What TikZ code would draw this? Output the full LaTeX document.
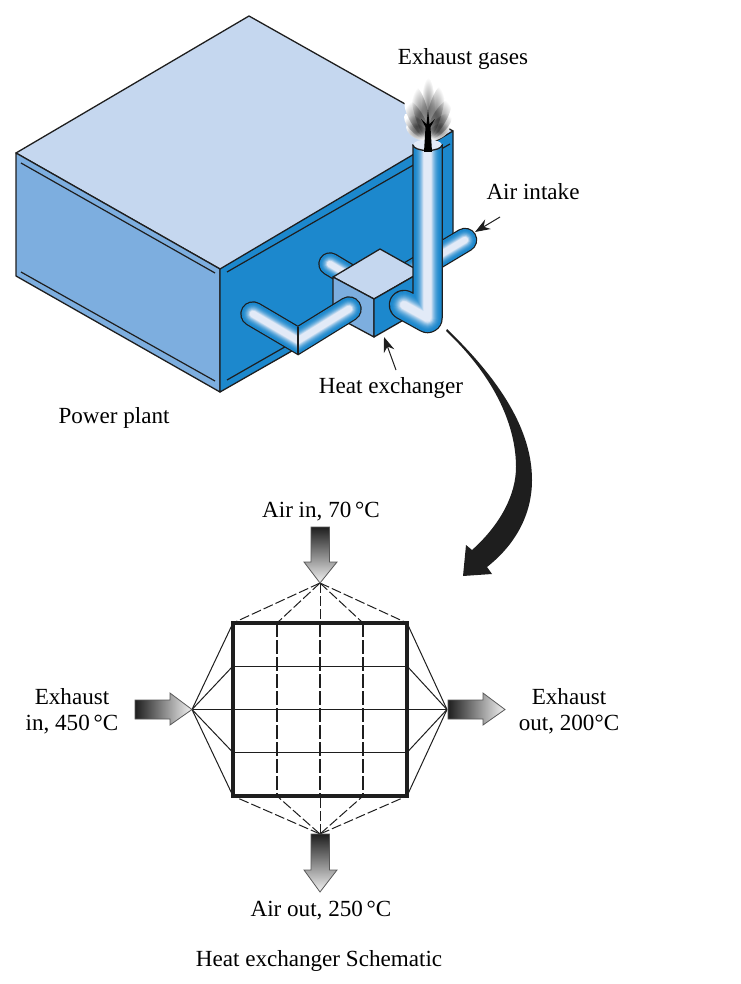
\documentclass[tikz,border=0pt]{standalone}
\usepackage{fontspec}
\setmainfont{Liberation Serif}
\usetikzlibrary{arrows.meta,fadings}
\definecolor{roofblue}{HTML}{C5D7EF}
\definecolor{sideblue}{HTML}{7DAEDF}
\definecolor{wallblue}{HTML}{1C88CD}
\definecolor{pipelight}{HTML}{E2EAF7}
\definecolor{inkblack}{HTML}{1E1E1E}
\tikzfading[name=smokefade, inner color=transparent!0, outer color=transparent!100]
\tikzset{
  face/.style={draw=inkblack, line width=1.3pt, line join=round},
  trim/.style={draw=inkblack, line width=1.2pt},
  label/.style={font=\fontsize{23.1}{26}\selectfont, inner sep=0pt, align=center},
  pointer/.style={draw=inkblack, line width=1pt, -{Stealth[length=15pt,width=11pt]}},
  flowarrow/.style={draw=gray!70!black, line width=.8pt},
  puff/.style={path fading=smokefade, fill opacity=.5},
}
% tube: nested strokes give the shine along the pipe
\newcommand{\tube}[3]{
  \draw[#1, inkblack, line width={#2pt+2.5pt}] #3;
  \foreach \f [evaluate=\f as \c using \f*\f/100] in {0,5,...,100} {
    \draw[#1, pipelight!\c!wallblue, line width={#2pt*(1-\f*0.0072)}] #3;
  }
}
\begin{document}
\begin{tikzpicture}[x=1pt, y=-1pt]
\useasboundingbox (0,0) rectangle (740,984);
% power plant
\coordinate (roofW) at (16,153);
\coordinate (roofN) at (249,16);
\coordinate (roofE) at (453,131);
\coordinate (roofS) at (220,269);
\coordinate (baseW) at (16,276);
\coordinate (baseS) at (220,392);
\coordinate (baseE) at (453,259);
\fill[roofblue] (roofW) -- (roofN) -- (roofE) -- (roofS) -- cycle;
\draw[face] (roofS) -- (roofW) -- (roofN) -- (roofE);
\draw[face, fill=sideblue] (roofW) -- (roofS) -- (baseS) -- (baseW) -- cycle;
\draw[face, fill=wallblue] (roofS) -- (roofE) -- (baseE) -- (baseS) -- cycle;
\draw[trim] (21,163) -- (215,273);
\draw[trim] (21,272) -- (215,381);
\draw[trim] (227,272) -- (450,144);
\draw[trim] (227,380) -- (290,344);
% pipes behind the exchanger
\tube{line cap=round}{21}{(330,264) -- (360,282)}
\tube{line cap=round}{22}{(465,240) -- (395,282)}
% exchanger
\coordinate (cubeN) at (380,249);
\coordinate (cubeW) at (333,277);
\coordinate (cubeS) at (374,299);
\coordinate (cubeE) at (421,272);
\coordinate (cubeB) at (374,337);
\coordinate (cubeL) at (333,315);
\coordinate (cubeR) at (421,310);
\draw[face, fill=roofblue] (cubeW) -- (cubeN) -- (cubeE) -- (cubeS) -- cycle;
\draw[face, fill=sideblue] (cubeW) -- (cubeS) -- (cubeB) -- (cubeL) -- cycle;
\draw[face, fill=wallblue] (cubeS) -- (cubeE) -- (cubeR) -- (cubeB) -- cycle;
% bent pipe in front
\tube{line cap=round, line join=miter}{23}{(253,314) -- (298,340.5) -- (349,309)}
\draw[trim] (298,327) -- (298,354);
% stack
\begin{scope}
\clip (380,145) rectangle (450,340);
\tube{line cap=round, line join=round}{28}{(427.5,130) -- (427.5,318) -- (404,305)}
\end{scope}
\fill[pipelight] (427.5,145) ellipse (14.5 and 5.5);
\draw[face] (413,145) arc[start angle=180, end angle=0, x radius=14.5, y radius=5.5];
% smoke
\coordinate (smokebase) at (428,138);
\foreach \a/\l in {58/25,-58/25,44/33,-44/33,30/44,-30/44,15/54,-15/54,0/60} {
  \fill[white, rotate around={\a:(smokebase)}] (428,138-\l/2) ellipse (7 and \l/2);
}
\foreach \a/\l in {58/25,-58/25,44/33,-44/33,30/44,-30/44,15/54,-15/54,0/60} {
  \fill[black, puff, rotate around={\a:(smokebase)}] (428,138-\l/2) ellipse (7 and \l/2);
}
\fill[black] (424,152) -- (425.5,127) -- (421,119) -- (426.5,124) -- (428,110) -- (429.5,124) -- (435,119) -- (430.5,127) -- (432,152) -- cycle;
% big arrow
\fill[inkblack] (447,329) .. controls (500,380) and (532,430) .. (532,480)
  .. controls (532,515) and (515,545) .. (487,567) -- (492,574) -- (463,576)
  -- (466,545) -- (472,550) .. controls (500,525) and (516,495) .. (516,467)
  .. controls (516,435) and (503,385) .. (446,331) -- cycle;
% schematic
\coordinate (apexN) at (320,583);
\coordinate (apexS) at (320,834);
\coordinate (apexW) at (192,709.5);
\coordinate (apexE) at (447,709.5);
\foreach \n/\y in {a/623,b/666,c/709.5,d/752.5,e/796} {
  \coordinate (w\n) at (233,\y);
  \coordinate (x\n) at (407,\y);
  \draw[inkblack, line width=1pt] (apexW) -- (w\n);
  \draw[inkblack, line width=1pt] (x\n) -- (apexE);
}
\draw[inkblack, line width=1pt] (wb) -- (xb);
\draw[inkblack, line width=1pt] (wc) -- (xc);
\draw[inkblack, line width=1pt] (wd) -- (xd);
\foreach \n/\x in {a/233,b/277,c/320,d/363,e/407} {
  \coordinate (n\n) at (\x,623);
  \coordinate (s\n) at (\x,796);
  \draw[inkblack, line width=1pt, dash pattern=on 10pt off 3pt] (apexN) -- (n\n);
  \draw[inkblack, line width=1pt, dash pattern=on 10pt off 3pt] (apexS) -- (s\n);
}
\draw[inkblack, line width=1.2pt, dash pattern=on 14pt off 3pt] (nb) -- (sb);
\draw[inkblack, line width=1.2pt, dash pattern=on 14pt off 3pt] (nc) -- (sc);
\draw[inkblack, line width=1.2pt, dash pattern=on 14pt off 3pt] (nd) -- (sd);
\draw[inkblack, line width=3.5pt] (wa) rectangle (xe);
% flow arrows
\draw[flowarrow, top color=black!88, bottom color=black!5] (311,527) -- (329.5,527) -- (329.5,562) -- (337,562) -- (320,583) -- (304,562) -- (311,562) -- cycle;
\draw[flowarrow, top color=black!88, bottom color=black!5] (311,834) -- (329.5,834) -- (329.5,870) -- (337,870) -- (320,892) -- (304,870) -- (311,870) -- cycle;
\draw[flowarrow, left color=black!88, right color=black!5] (135,700) -- (170,700) -- (170,693) -- (192,709.5) -- (170,725) -- (170,719) -- (135,719) -- cycle;
\draw[flowarrow, left color=black!88, right color=black!5] (448,700) -- (483,700) -- (483,693) -- (505,709.5) -- (483,725) -- (483,719) -- (448,719) -- cycle;
% labels
\node[label] (gases) at (463,59) {Exhaust gases};
\node[label] (intake) at (533,192) {Air intake};
\node[label] (exchanger) at (391,388) {Heat exchanger};
\node[label] (plant) at (114,418) {Power plant};
\node[label] (airin) at (321,512) {Air in, 70\,°C};
\node[label] (exin) at (72,711) {Exhaust\\in, 450\,°C};
\node[label] (exout) at (569,711) {Exhaust\\out, 200°C};
\node[label] (airout) at (321,911) {Air out, 250\,°C};
\node[label] (schematic) at (319,961) {Heat exchanger Schematic};
% pointers
\coordinate (intaketail) at (500,217);
\coordinate (intaketip) at (475,232);
\coordinate (cubetail) at (396,370);
\coordinate (cubetip) at (384,337);
\draw[pointer] (intaketail) -- (intaketip);
\draw[pointer] (cubetail) -- (cubetip);
\end{tikzpicture}
\end{document}
